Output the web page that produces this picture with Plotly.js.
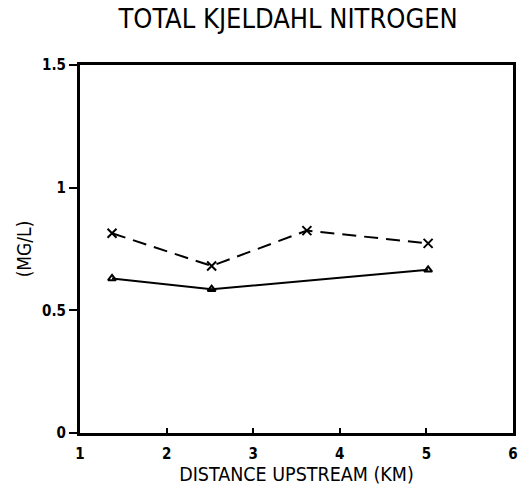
<!DOCTYPE html>
<html><head><meta charset="utf-8">
<script src="https://cdn.plot.ly/plotly-3.0.1.min.js"></script>
<style>body{margin:0;background:#fff}#c{width:521px;height:495px}</style>
</head><body><div id="c"></div>
<script>
const distX = [1.37, 2.52, 3.62, 5.02];
const seriesX = [0.814, 0.681, 0.825, 0.773];
const distT = [1.37, 2.52, 5.02];
const seriesT = [0.63, 0.586, 0.665];
const xTicks = [1, 2, 3, 4, 5, 6];
const yTicks = [0, 0.5, 1, 1.5];
const yTickText = ['0', '0.5', '1', '1.5'];

const font = "'DejaVu Sans Condensed', 'Liberation Sans Narrow', Arial, sans-serif";
const traces = [
  {x: distX, y: seriesX, mode: 'lines+markers', type: 'scatter',
   line: {color: '#000', width: 2, dash: '14px,8px'},
   marker: {symbol: 'x-thin-open', size: 9, color: '#000', line: {color: '#000', width: 2}}},
  {x: distT, y: seriesT, mode: 'lines+markers', type: 'scatter',
   line: {color: '#000', width: 2},
   marker: {symbol: 'triangle-up-open', size: 7, color: '#000', line: {color: '#000', width: 2}}}
];
const layout = {
  width: 521, height: 495,
  margin: {l: 80, r: 8, t: 65, b: 62},
  paper_bgcolor: '#fff', plot_bgcolor: '#fff',
  showlegend: false,
  title: {text: 'TOTAL KJELDAHL NITROGEN', x: 0.553, xanchor: 'center', y: 0.962, yanchor: 'middle',
          font: {family: font, size: 27, color: '#000'}},
  xaxis: {range: [1, 6], tickvals: xTicks, ticks: 'inside', ticklen: 5, tickwidth: 2, tickcolor: '#000',
          ticklabelstandoff: 5,
          showline: true, linewidth: 3, linecolor: '#000', mirror: true, showgrid: false, zeroline: false,
          tickfont: {family: font, size: 15, color: '#000', weight: 'bold'},
          title: {text: 'DISTANCE UPSTREAM (KM)', standoff: 4, font: {family: font, size: 19.5, color: '#000'}}},
  yaxis: {range: [0, 1.5], tickvals: yTicks, ticktext: yTickText, ticks: 'outside', ticklen: 8, tickwidth: 2, tickcolor: '#000',
          showline: true, linewidth: 3, linecolor: '#000', mirror: true, showgrid: false, zeroline: false,
          tickfont: {family: font, size: 15, color: '#000', weight: 'bold'},
          title: {text: '(MG/L)', standoff: 6, font: {family: font, size: 19, color: '#000'}}}
};
Plotly.newPlot('c', traces, layout, {displayModeBar: false, staticPlot: true});
</script></body></html>
